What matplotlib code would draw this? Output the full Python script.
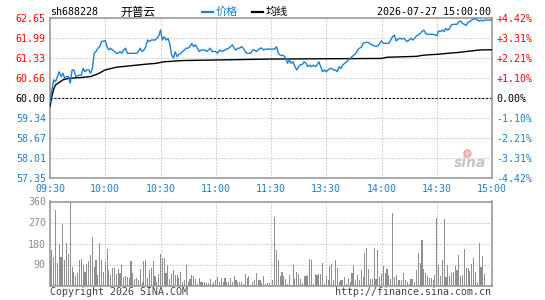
import matplotlib
matplotlib.use("Agg")
import matplotlib.pyplot as plt
import numpy as np
from matplotlib.lines import Line2D

plt.rcParams["font.family"] = ["DejaVu Sans Mono", "Noto Sans CJK SC"]

BLUE = "#1a80d4"
RED = "#ff0000"
GRID = "#aaaaaa"
FRAME = "#999999"
BAR = "#8f8f8f"

symbol = "sh688228"
name = "开普云"
stamp = "2026-07-27 15:00:00"
prev_close = 60.00

# price line, minute index from 09:30 (0..240, 11:30 and 13:00 merged at 120)
price_min = [0, 1, 2, 3, 4, 5, 6, 7, 8, 9, 10, 11, 12, 13, 14, 16, 17, 18, 19, 20,
             21, 22, 23, 24, 25, 26, 27, 28, 30, 31, 32, 33, 34, 35, 36, 37, 38, 39, 40, 41,
             42, 47, 48, 49, 50, 51, 52, 53, 54, 55, 57, 58, 59, 60, 61, 62, 63, 64, 65, 66,
             67, 68, 69, 70, 71, 72, 73, 74, 75, 76, 77, 78, 79, 80, 81, 82, 83, 84, 85, 86,
             87, 88, 90, 91, 92, 93, 95, 97, 98, 99, 100, 101, 102, 103, 104, 105, 106, 107, 109, 110,
             111, 112, 113, 114, 115, 116, 117, 120, 121, 122, 123, 124, 125, 127, 128, 129, 130, 131, 132, 133,
             134, 135, 136, 137, 138, 139, 140, 141, 142, 143, 144, 145, 146, 147, 148, 149, 150, 151, 152, 153,
             154, 155, 156, 157, 158, 159, 160, 161, 162, 163, 164, 165, 166, 167, 168, 169, 170, 171, 173, 174,
             175, 176, 178, 179, 180, 181, 184, 185, 186, 187, 188, 189, 190, 191, 192, 193, 194, 195, 196, 197,
             198, 199, 200, 201, 202, 203, 204, 205, 208, 209, 210, 211, 212, 213, 214, 215, 216, 217, 218, 219,
             221, 222, 223, 224, 225, 226, 227, 228, 229, 230, 231, 232, 233, 234, 235, 236, 240]
price = [59.85, 60.26, 60.60, 60.54, 60.71, 60.87, 60.71, 60.82, 60.65, 60.71, 60.71, 60.49, 60.93, 60.93, 60.71, 60.76, 60.76, 60.98, 60.87, 60.93,
         60.93, 60.82, 60.98, 61.48, 61.54, 61.65, 61.70, 61.87, 61.90, 61.70, 61.59, 61.65, 61.59, 61.54, 61.48, 61.48, 61.54, 61.48, 61.59, 61.65,
         61.48, 61.48, 61.54, 61.65, 61.54, 61.59, 61.70, 61.92, 61.87, 61.92, 61.92, 61.98, 62.05, 62.25, 61.92, 62.03, 61.92, 61.98, 61.81, 61.43,
         61.33, 61.53, 61.37, 61.45, 61.48, 61.54, 61.59, 61.65, 61.65, 61.70, 61.81, 61.70, 61.76, 61.65, 61.54, 61.59, 61.59, 61.59, 61.54, 61.59,
         61.65, 61.54, 61.54, 61.48, 61.59, 61.54, 61.59, 61.65, 61.70, 61.76, 61.65, 61.59, 61.65, 61.65, 61.70, 61.65, 61.54, 61.48, 61.48, 61.59,
         61.59, 61.54, 61.59, 61.65, 61.65, 61.59, 61.62, 61.62, 61.62, 61.62, 61.70, 61.48, 61.42, 61.40, 61.31, 61.15, 61.26, 61.15, 61.20, 61.04,
         60.93, 61.04, 61.11, 61.11, 61.20, 61.15, 61.04, 61.09, 61.04, 61.09, 61.04, 61.09, 61.20, 61.04, 60.87, 60.93, 60.87, 60.93, 60.98, 60.98,
         60.93, 60.93, 60.87, 61.04, 60.98, 61.09, 61.15, 61.20, 61.26, 61.31, 61.37, 61.42, 61.48, 61.59, 61.65, 61.68, 61.81, 61.84, 61.84, 61.78,
         61.76, 61.72, 61.72, 61.81, 61.89, 61.81, 61.81, 61.92, 62.03, 62.09, 61.89, 61.95, 61.98, 61.95, 61.98, 61.92, 61.87, 61.92, 61.98, 61.92,
         61.98, 62.06, 62.09, 62.14, 62.20, 62.25, 62.14, 62.11, 62.11, 62.09, 62.06, 62.22, 62.20, 62.25, 62.20, 62.31, 62.25, 62.31, 62.42, 62.44,
         62.44, 62.53, 62.55, 62.47, 62.44, 62.40, 62.51, 62.53, 62.58, 62.62, 62.64, 62.58, 62.55, 62.58, 62.55, 62.58, 62.58]

avg_min = [0, 1, 2, 3, 5, 7, 10, 17, 22, 26, 30, 36, 44, 52, 58, 60, 62, 72, 100, 120,
           150, 180, 183, 199, 203, 211, 216, 222, 229, 233, 240]
avg = [59.72, 60.05, 60.30, 60.43, 60.52, 60.60, 60.65, 60.68, 60.71, 60.80, 60.93, 61.02, 61.07, 61.12, 61.15, 61.18, 61.20, 61.24, 61.27, 61.29,
       61.30, 61.31, 61.35, 61.38, 61.42, 61.45, 61.48, 61.51, 61.56, 61.59, 61.60]

# volume per minute (hands), morning from 09:30, afternoon from 13:01
vol_am = [115, 151, 122, 324, 98, 180, 122, 262, 111, 184,
          137, 360, 79, 60, 39, 55, 108, 115, 89, 60,
          92, 104, 132, 206, 79, 111, 46, 184, 108, 60,
          101, 158, 65, 46, 76, 76, 50, 72, 55, 89,
          36, 40, 36, 32, 104, 55, 29, 32, 24, 72,
          17, 104, 108, 33, 65, 76, 104, 40, 17, 50,
          137, 118, 118, 55, 89, 26, 50, 65, 46, 43,
          32, 60, 17, 24, 89, 17, 29, 46, 40, 29,
          7, 33, 14, 14, 14, 10, 10, 29, 7, 14,
          24, 36, 17, 32, 17, 32, 14, 14, 32, 14,
          39, 24, 14, 17, 14, 7, 49, 33, 39, 4,
          14, 22, 55, 22, 22, 9, 40, 7, 12, 12]
vol_pm = [22, 292, 151, 108, 39, 60, 39, 26, 7, 43,
          4, 89, 29, 60, 50, 26, 10, 39, 39, 43,
          115, 108, 7, 50, 43, 50, 50, 98, 7, 40,
          24, 82, 94, 24, 108, 75, 17, 24, 22, 36,
          7, 33, 14, 55, 89, 22, 46, 22, 68, 36,
          141, 161, 72, 26, 29, 161, 29, 154, 36, 50,
          82, 55, 72, 46, 29, 310, 36, 46, 22, 22,
          22, 55, 22, 14, 7, 29, 29, 17, 68, 141,
          98, 197, 72, 55, 40, 33, 33, 24, 46, 288,
          89, 40, 111, 284, 36, 89, 40, 55, 60, 82,
          68, 132, 40, 46, 158, 75, 75, 63, 94, 120,
          60, 14, 184, 79, 127, 50]

time_ticks = [0, 30, 60, 90, 120, 150, 180, 210, 240]
time_labels = ["09:30", "10:00", "10:30", "11:00", "11:30", "13:30", "14:00", "14:30", "15:00"]
price_ticks = [57.35, 58.01, 58.67, 59.34, 60.00, 60.66, 61.33, 61.99, 62.65]
pct_labels = ["-4.42%", "-3.31%", "-2.21%", "-1.10%", "0.00%", "+1.10%", "+2.21%", "+3.31%", "+4.42%"]
vol_ticks = [90, 180, 270, 360]

W, H = 545, 300
FS = 7.2
fig = plt.figure(figsize=(W / 100, H / 100), dpi=100)


def box(x0, y0, x1, y1):
    return [x0 / W, 1 - y1 / H, (x1 - x0) / W, (y1 - y0) / H]


def ftext(x, y, s, **kw):
    fig.text(x / W, 1 - y / H, s, va="center", **kw)


def tick_color(v):
    if v > prev_close:
        return RED
    if v < prev_close:
        return BLUE
    return "black"


ax = fig.add_axes(box(50, 18, 492, 178))
axv = fig.add_axes(box(50, 201.5, 492, 285.5))

for a in (ax, axv):
    for sp in a.spines.values():
        sp.set_color(FRAME)
        sp.set_linewidth(1.2)
    a.set_xlim(0, 240)
    for t in time_ticks[1:-1]:
        a.axvline(t, color=GRID, lw=0.72, ls=(0, (1, 2)), zorder=0)

# price panel
ax.set_ylim(price_ticks[0], price_ticks[-1])
for v in price_ticks[1:-1]:
    if v == prev_close:
        ax.axhline(v, color="black", lw=0.8, ls=(0, (2, 1.5)), zorder=1)
    else:
        ax.axhline(v, color=GRID, lw=0.72, ls=(0, (1, 2)), zorder=0)

ax.plot(avg_min, avg, color="black", lw=1.0, zorder=3)
ax.plot(price_min, price, color=BLUE, lw=1.0, zorder=4)

ax.set_yticks(price_ticks, [f"{v:.2f}" for v in price_ticks])
ax.set_xticks(time_ticks, time_labels)
ax.tick_params(length=0, labelsize=FS)
ax.tick_params(axis="y", pad=3)
ax.tick_params(axis="x", pad=4, colors=BLUE)
for lab, v in zip(ax.get_yticklabels(), price_ticks):
    lab.set_color(tick_color(v))

ax2 = ax.twinx()
ax2.set_ylim(price_ticks[0], price_ticks[-1])
ax2.set_yticks(price_ticks, pct_labels)
ax2.tick_params(length=0, labelsize=FS, pad=3)
for sp in ax2.spines.values():
    sp.set_visible(False)
for lab, v in zip(ax2.get_yticklabels(), price_ticks):
    lab.set_color(tick_color(v))

# volume panel
axv.set_ylim(0, 360)
for v in vol_ticks[:-1]:
    axv.axhline(v, color=GRID, lw=0.72, ls=(0, (1, 2)), zorder=0)
am_x = np.arange(len(vol_am))
pm_x = 121 + np.arange(len(vol_pm))
axv.bar(am_x, vol_am, width=0.6, color=BAR, linewidth=0, zorder=2)
axv.bar(pm_x, vol_pm, width=0.6, color=BAR, linewidth=0, zorder=2)
axv.set_xticks([])
axv.set_yticks(vol_ticks, [str(v) for v in vol_ticks])
axv.tick_params(length=0, labelsize=FS, pad=3, colors="#8a8a8a")

# header
ftext(50, 12, symbol, fontsize=FS, color="black")
ftext(120, 12, name, fontsize=8.5, color="black", family=["Noto Sans CJK SC"])
fig.add_artist(Line2D([202 / W, 213 / W], [1 - 11.5 / H] * 2, color=BLUE, lw=1.6))
ftext(216, 12, "价格", fontsize=8, color=BLUE, family=["Noto Sans CJK SC"])
fig.add_artist(Line2D([252 / W, 263 / W], [1 - 11.5 / H] * 2, color="black", lw=1.6))
ftext(266, 12, "均线", fontsize=8, color="black", family=["Noto Sans CJK SC"])
ftext(491, 12, stamp, fontsize=FS, color="black", ha="right")

# footer
ftext(50, 292, "Copyright 2026 SINA.COM", fontsize=FS, color="#444444")
ftext(491, 292, "http://finance.sina.com.cn", fontsize=FS, color="#444444", ha="right")

# watermark
fig.add_artist(Line2D([467 / W], [1 - 153 / H], marker="o", ms=5, color="#f6c4c4", mec="#eea0a0"))
ftext(470, 163, "sina", fontsize=10, color="#c4c4c4", ha="center",
      style="italic", weight="bold", family=["DejaVu Sans"])

fig.savefig("out.png", dpi=100)
